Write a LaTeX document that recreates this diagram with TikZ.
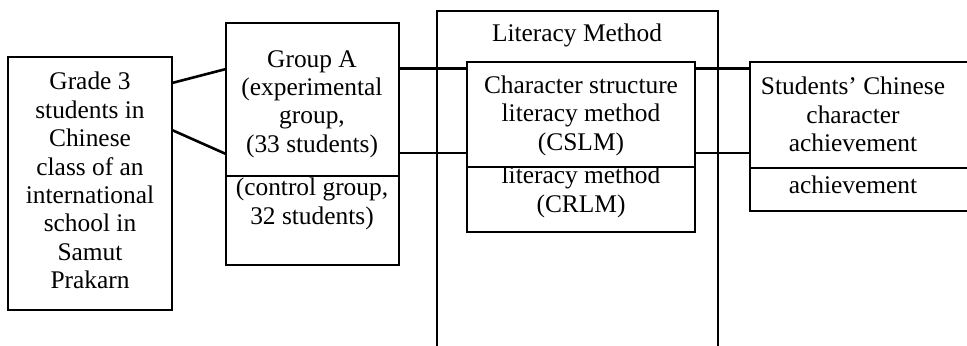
\documentclass[tikz,border=0pt]{standalone}
\usepackage{fontspec}
\setmainfont{Liberation Serif}
\usetikzlibrary{positioning}

\begin{document}
\begin{tikzpicture}[x=0.5pt,y=-0.5pt,
  box/.style={draw, line width=1.3pt, inner sep=0pt, outer sep=0pt, anchor=north west,
    align=center, font=\fontsize{12.7}{14.2}\selectfont},
  txt/.style={align=center, inner sep=0pt, font=\fontsize{12.7}{14.2}\selectfont},
  link/.style={draw, line width=1.3pt}]
\useasboundingbox (0,0) rectangle (967,345);
\clip (0,0) rectangle (967,345);
% frame of the methods, runs off the bottom
\node[box, minimum width=140.5pt, minimum height=180pt] (litbox) at (437,11) {};
\node[txt] (littitle) at (577,35) {Literacy Method};
\node[box, minimum width=82pt, minimum height=126.5pt] (pop) at (8,57) {};
\node[txt] (poptxt) at (90,180.5)
  {Grade 3\\students in\\Chinese\\class of an\\international\\school in\\Samut\\Prakarn};
\node[box, minimum width=86.5pt, minimum height=44.5pt] (grpB) at (226,176) {};
\node[txt] (grpBtxt) at (312,204) {(control group,\\32 students)};
\node[box, minimum width=86.5pt, minimum height=76.5pt] (grpA) at (226,23) {};
\node[txt] (grpAtxt) at (312,104) {Group A\\(experimental\\group,\\(33 students)};
\node[box, minimum width=114pt, minimum height=32.5pt] (crlm) at (467,167) {};
\node[txt] (crlmtxt) at (581,192) {literacy method\\(CRLM)};
\node[box, fill=white, minimum width=114pt, minimum height=52.5pt] (cslm) at (467,62) {};
\node[txt] (cslmtxt) at (581,115.5) {Character structure\\literacy method\\(CSLM)};
\node[box, minimum width=115pt, minimum height=21.5pt] (achB) at (750,168) {};
\node[txt] (achBtxt) at (853,185) {achievement};
\node[box, fill=white, minimum width=115pt, minimum height=53pt] (achA) at (750,62) {};
\node[txt] (achAtxt) at (853,114.5) {Students’ Chinese\\character\\achievement};
\coordinate (up) at (0,68.5);
\coordinate (dn) at (0,153);
\draw[link] ([yshift=50.25pt]pop.east) -- ([yshift=15.25pt]grpA.west);
\draw[link] ([yshift=26.75pt]pop.east) -- ([yshift=-27.25pt]grpA.west);
\draw[link] (grpA.east |- up) -- (cslm.west |- up);
\draw[link] (grpA.east |- dn) -- (cslm.west |- dn);
\draw[link] (cslm.east |- up) -- (achA.west |- up);
\draw[link] (cslm.east |- dn) -- (achA.west |- dn);
\end{tikzpicture}
\end{document}
